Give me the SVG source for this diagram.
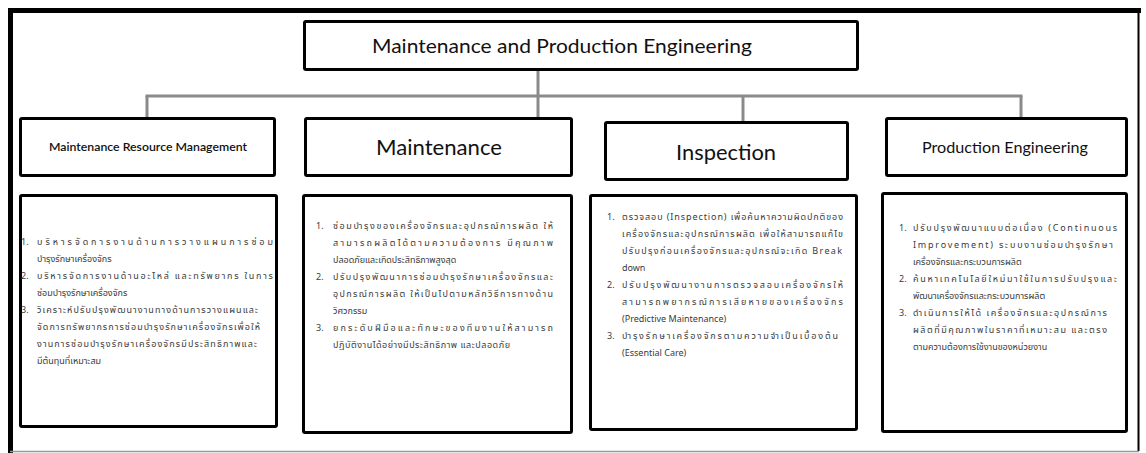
<svg xmlns="http://www.w3.org/2000/svg" width="1146" height="453" viewBox="0 0 1146 453">
  <style>
    .box { fill: #fff; stroke: #000; stroke-width: 3; }
    .link { stroke: #8a8a8a; stroke-width: 3; fill: none; }
    .head { font-family: Lato, "Open Sans", "Liberation Sans", sans-serif; fill: #111; }
    .body { font-family: "Noto Sans Thai", "Noto Sans Thai UI", Tahoma, Loma, Garuda, "Noto Sans", sans-serif; font-size: 9px; fill: #3a3a3a; }
  </style>
  <rect x="0" y="0" width="1146" height="453" fill="#fff"/>

  <!-- outer frame -->
  <g id="frame">
    <line x1="10.5" y1="8" x2="10.5" y2="453" stroke="#000" stroke-width="5"/>
    <line x1="8" y1="10.5" x2="1141" y2="10.5" stroke="#000" stroke-width="5"/>
    <line x1="1138.5" y1="8" x2="1138.5" y2="451" stroke="#000" stroke-width="2"/>
    <line x1="10" y1="451.5" x2="1139" y2="451.5" stroke="#999" stroke-width="1.5"/>
  </g>

  <!-- connectors -->
  <g id="connectors">
    <line class="link" x1="538" y1="70" x2="538" y2="118"/>
    <line class="link" x1="145.5" y1="96" x2="1022.5" y2="96"/>
    <line class="link" x1="147" y1="96" x2="147" y2="118"/>
    <line class="link" x1="743" y1="96" x2="743" y2="122"/>
    <line class="link" x1="1021" y1="96" x2="1021" y2="118"/>
  </g>

  <!-- root -->
  <g id="root">
    <rect class="box" x="304.5" y="21.5" width="553" height="48" rx="1.5"/>
    <text class="head" x="562" y="53" font-size="20" text-anchor="middle" textLength="380" lengthAdjust="spacingAndGlyphs">Maintenance and Production Engineering</text>
  </g>

  <!-- category headers -->
  <g id="head-resource">
    <rect class="box" x="20.5" y="118.5" width="254" height="57" rx="1.5"/>
    <text class="head" x="148" y="151" font-size="11" font-weight="600" text-anchor="middle" textLength="198" lengthAdjust="spacingAndGlyphs">Maintenance Resource Management</text>
  </g>
  <g id="head-maintenance">
    <rect class="box" x="305.5" y="118.5" width="266" height="57" rx="1.5"/>
    <text class="head" x="439" y="155" font-size="21" text-anchor="middle" textLength="126" lengthAdjust="spacingAndGlyphs">Maintenance</text>
  </g>
  <g id="head-inspection">
    <rect class="box" x="605.5" y="122.5" width="242" height="57" rx="1.5"/>
    <text class="head" x="726" y="160" font-size="21" text-anchor="middle" textLength="100" lengthAdjust="spacingAndGlyphs">Inspection</text>
  </g>
  <g id="head-production">
    <rect class="box" x="886.5" y="118.5" width="240" height="57" rx="1.5"/>
    <text class="head" x="1005" y="153" font-size="16" text-anchor="middle" textLength="166" lengthAdjust="spacingAndGlyphs">Production Engineering</text>
  </g>

  <!-- detail boxes -->
  <g id="detail-resource">
    <rect class="box" x="20.5" y="195.5" width="256" height="231" rx="1.5"/>
    <text class="body" x="21" y="245">1.</text>
    <text class="body" x="37" y="245" textLength="236" lengthAdjust="spacing">บริหารจัดการงานด้านการวางแผนการซ่อม</text>
    <text class="body" x="37" y="262">บำรุงรักษาเครื่องจักร</text>
    <text class="body" x="21" y="279">2.</text>
    <text class="body" x="37" y="279" textLength="236" lengthAdjust="spacing">บริหารจัดการงานด้านอะไหล่ และทรัพยากร ในการ</text>
    <text class="body" x="37" y="296">ซ่อมบำรุงรักษาเครื่องจักร</text>
    <text class="body" x="21" y="313">3.</text>
    <text class="body" x="37" y="313" textLength="221" lengthAdjust="spacing">วิเคราะห์ปรับปรุงพัฒนางานทางด้านการวางแผนและ</text>
    <text class="body" x="37" y="330" textLength="223" lengthAdjust="spacing">จัดการทรัพยากรการซ่อมบำรุงรักษาเครื่องจักรเพื่อให้</text>
    <text class="body" x="37" y="347" textLength="220" lengthAdjust="spacing">งานการซ่อมบำรุงรักษาเครื่องจักรมีประสิทธิภาพและ</text>
    <text class="body" x="37" y="364">มีต้นทุนที่เหมาะสม</text>
  </g>

  <g id="detail-maintenance">
    <rect class="box" x="303.5" y="195.5" width="268" height="237" rx="1.5"/>
    <text class="body" x="316" y="229">1.</text>
    <text class="body" x="333" y="229" textLength="220" lengthAdjust="spacing">ซ่อมบำรุงของเครื่องจักรและอุปกรณ์การผลิต ให้</text>
    <text class="body" x="333" y="246" textLength="220" lengthAdjust="spacing">สามารถผลิตได้ตามความต้องการ มีคุณภาพ</text>
    <text class="body" x="333" y="263">ปลอดภัยและเกิดประสิทธิภาพสูงสุด</text>
    <text class="body" x="316" y="280">2.</text>
    <text class="body" x="333" y="280" textLength="220" lengthAdjust="spacing">ปรับปรุงพัฒนาการซ่อมบำรุงรักษาเครื่องจักรและ</text>
    <text class="body" x="333" y="297" textLength="220" lengthAdjust="spacing">อุปกรณ์การผลิต ให้เป็นไปตามหลักวิธีการทางด้าน</text>
    <text class="body" x="333" y="314">วิศวกรรม</text>
    <text class="body" x="316" y="331">3.</text>
    <text class="body" x="333" y="331" textLength="220" lengthAdjust="spacing">ยกระดับฝีมือและทักษะของทีมงานให้สามารถ</text>
    <text class="body" x="333" y="348" textLength="177" lengthAdjust="spacing">ปฏิบัติงานได้อย่างมีประสิทธิภาพ และปลอดภัย</text>
  </g>

  <g id="detail-inspection">
    <rect class="box" x="590.5" y="195.5" width="266" height="234" rx="1.5"/>
    <text class="body" x="607" y="220">1.</text>
    <text class="body" x="622" y="220" textLength="221" lengthAdjust="spacing">ตรวจสอบ (Inspection) เพื่อค้นหาความผิดปกติของ</text>
    <text class="body" x="622" y="237" textLength="221" lengthAdjust="spacing">เครื่องจักรและอุปกรณ์การผลิต เพื่อให้สามารถแก้ไข</text>
    <text class="body" x="622" y="254" textLength="220" lengthAdjust="spacing">ปรับปรุงก่อนเครื่องจักรและอุปกรณ์จะเกิด Break</text>
    <text class="body" x="622" y="271">down</text>
    <text class="body" x="607" y="288">2.</text>
    <text class="body" x="622" y="288" textLength="221" lengthAdjust="spacing">ปรับปรุงพัฒนางานการตรวจสอบเครื่องจักรให้</text>
    <text class="body" x="622" y="305" textLength="221" lengthAdjust="spacing">สามารถพยากรณ์การเสียหายของเครื่องจักร</text>
    <text class="body" x="622" y="322">(Predictive Maintenance)</text>
    <text class="body" x="607" y="339">3.</text>
    <text class="body" x="622" y="339" textLength="216" lengthAdjust="spacing">บำรุงรักษาเครื่องจักรตามความจำเป็นเบื้องต้น</text>
    <text class="body" x="622" y="356">(Essential Care)</text>
  </g>

  <g id="detail-production">
    <rect class="box" x="882.5" y="193.5" width="244" height="238" rx="1.5"/>
    <text class="body" x="899" y="231">1.</text>
    <text class="body" x="913" y="231" textLength="204" lengthAdjust="spacing">ปรับปรุงพัฒนาแบบต่อเนื่อง (Continuous</text>
    <text class="body" x="913" y="248" textLength="200" lengthAdjust="spacing">Improvement) ระบบงานซ่อมบำรุงรักษา</text>
    <text class="body" x="913" y="265">เครื่องจักรและกระบวนการผลิต</text>
    <text class="body" x="899" y="282">2.</text>
    <text class="body" x="913" y="282" textLength="204" lengthAdjust="spacing">ค้นหาเทคโนโลยีใหม่มาใช้ในการปรับปรุงและ</text>
    <text class="body" x="913" y="299">พัฒนาเครื่องจักรและกระบวนการผลิต</text>
    <text class="body" x="899" y="316">3.</text>
    <text class="body" x="913" y="316" textLength="194" lengthAdjust="spacing">ดำเนินการให้ได้ เครื่องจักรและอุปกรณ์การ</text>
    <text class="body" x="913" y="333" textLength="194" lengthAdjust="spacing">ผลิตที่มีคุณภาพในราคาที่เหมาะสม และตรง</text>
    <text class="body" x="913" y="350">ตามความต้องการใช้งานของหน่วยงาน</text>
  </g>
</svg>
